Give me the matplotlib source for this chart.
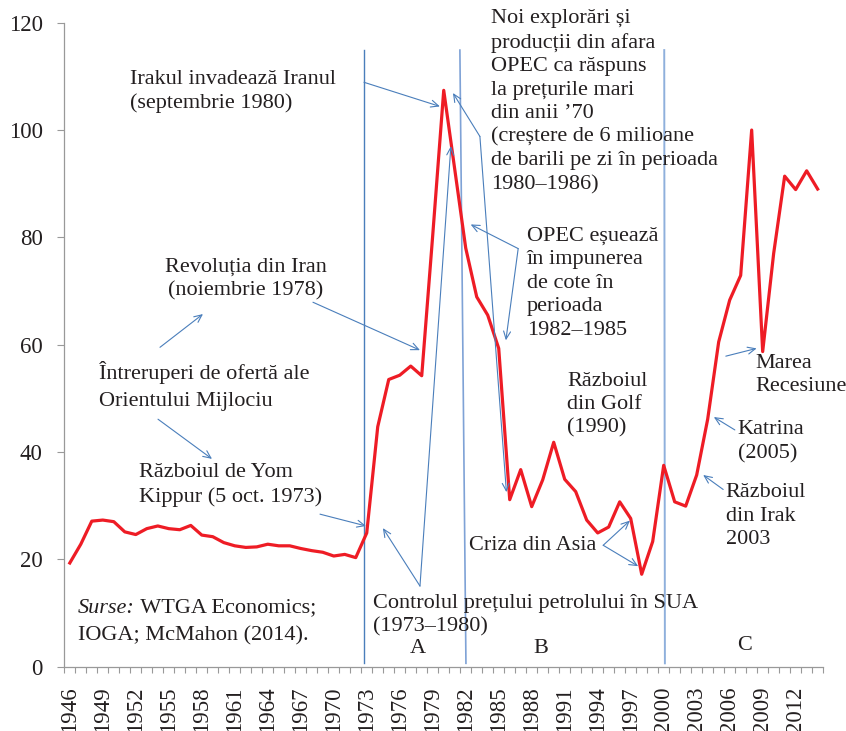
import numpy as np
import matplotlib
matplotlib.use('Agg')
import matplotlib.pyplot as plt

# real oil price (USD), 1946-2014
years = np.arange(1946, 2015)
prices = [19.3, 22.8, 27.1, 27.3, 27.0, 25.1, 24.6, 25.7, 26.2, 25.7,
          25.5, 26.3, 24.5, 24.2, 23.1, 22.5, 22.2, 22.3, 22.8, 22.5,
          22.5, 22.0, 21.6, 21.3, 20.6, 20.9, 20.3, 24.9, 44.7, 53.5,
          54.3, 56.0, 54.2, 80.4, 107.4, 92.7, 78.0, 68.9, 65.5, 59.3,
          31.1, 36.7, 29.8, 34.8, 41.8, 34.9, 32.6, 27.3, 24.9, 26.0,
          30.7, 27.6, 17.2, 23.3, 37.5, 30.7, 29.9, 35.7, 46.1, 60.5,
          68.3, 72.9, 100.0, 58.7, 77.0, 91.4, 88.9, 92.4, 89.0]
label_years = list(range(1946, 2013, 3))
y_ticks = [0, 20, 40, 60, 80, 100, 120]

plt.rcParams['font.family'] = ['Liberation Serif', 'DejaVu Serif']
txt_col = '#231f20'
blue = '#4a7ebb'
fs = 16
tick_fs = 16.5

fig = plt.figure(figsize=(8.46, 7.31), dpi=100)
ax = fig.add_axes([0.076, 0.0882, 0.897, 0.8807])

ax.plot(years, prices, color='#ee1c25', lw=2.3, zorder=3)

# period separators
ax.plot([1972.75, 1972.75], [0.6, 115.0], color=blue, lw=1.0)
ax.plot([1981.47, 1982.02], [114.9, 0.6], color='#7fa2d6', lw=1.2)
ax.plot([2000.05, 2000.11], [114.9, 0.6], color='#8fb0dc', lw=1.4)

ax.set_xlim(1945.5, 2014.5)
ax.set_ylim(0, 120)
ax.set_yticks(y_ticks)
ax.set_xticks(label_years)
ax.set_xticklabels([str(y) for y in label_years], rotation=90)
ax.set_xticks(np.arange(1945.5, 2015, 1), minor=True)
ax.tick_params(axis='x', which='major', length=0, pad=14.5, labelsize=tick_fs, labelcolor=txt_col)
ax.tick_params(axis='x', which='minor', length=4.5, color='#999999', width=0.8)
ax.tick_params(axis='y', length=5, pad=10.5, color='#999999', width=0.8,
               labelsize=tick_fs, labelcolor=txt_col)
for s in ['top', 'right']:
    ax.spines[s].set_visible(False)
for s in ['left', 'bottom']:
    ax.spines[s].set_color('#999999')
    ax.spines[s].set_linewidth(0.9)

arrow = dict(arrowstyle='->,head_length=0.55,head_width=0.25', color=blue, lw=0.8,
             shrinkA=0, shrinkB=0)

def arr(tail, head):
    ax.annotate('', xy=head, xytext=tail, arrowprops=arrow)

def note(x, y, s, ha='left', ls=1.32):
    ax.text(x, y, s, ha=ha, va='center', fontsize=fs, color=txt_col, linespacing=ls)

note(1951.47, 107.2, 'Irakul invadează Iranul\n(septembrie 1980)')
arr((1972.75, 108.9), (1979.65, 104.4))

note(1962.02, 72.2, 'Revoluția din Iran\n(noiembrie 1978)', ha='center')
arr((1968.11, 67.9), (1977.84, 58.97))

note(1948.65, 52.3, 'Întreruperi de ofertă ale\nOrientului Mijlociu', ls=1.57)
arr((1954.2, 59.5), (1958.11, 65.7))
arr((1954.02, 46.1), (1958.93, 38.7))

note(1952.29, 33.8, 'Războiul de Yom\nKippur (5 oct. 1973)')
arr((1968.75, 28.4), (1972.93, 26.2))

t1 = ax.text(1946.75, 10.9, 'Surse:', style='italic', ha='left', va='center',
             fontsize=fs, color=txt_col)
ax.annotate(' WTGA Economics;', xy=(1, 0), xycoords=t1, ha='left', va='bottom',
            fontsize=fs, color=txt_col)
note(1946.75, 5.7, 'IOGA; McMahon (2014).')

note(1973.56, 9.6, 'Controlul prețului petrolului în SUA\n(1973–1980)')
arr((1977.84, 15.0), (1974.47, 25.8))
arr((1977.84, 15.0), (1980.65, 97.0))

note(1977.65, 3.45, 'A', ha='center')
note(1988.84, 3.45, 'B', ha='center')
note(2007.38, 4.0, 'C', ha='center')

note(1984.29, 105.3, 'Noi explorări și\nproducții din afara\nOPEC ca răspuns\n'
     'la prețurile mari\ndin anii ’70\n(creștere de 6 milioane\n'
     'de barili pe zi în perioada\n1980–1986)')
arr((1983.29, 98.8), (1980.84, 106.9))
arr((1983.29, 98.8), (1985.7, 32.5))

note(1987.56, 71.4, 'OPEC eșuează\nîn impunerea\nde cote în\nperioada\n1982–1985')
arr((1986.77, 77.9), (1982.45, 82.4))
arr((1986.77, 77.9), (1985.65, 60.8))

note(1991.2, 48.8, 'Războiul\ndin Golf\n(1990)')

note(1982.29, 22.6, 'Criza din Asia')
arr((1994.5, 22.6), (1996.93, 27.2))
arr((1994.5, 22.6), (1997.68, 18.7))

note(2008.3, 54.3, 'Marea\nRecesiune')
arr((2005.65, 57.85), (2008.45, 59.3))

note(2006.74, 41.9, 'Katrina\n(2005)')
arr((2006.47, 44.1), (2004.56, 46.5))

note(2005.65, 28.0, 'Războiul\ndin Irak\n2003')
arr((2005.41, 33.0), (2003.59, 35.7))

fig.savefig('out.png', dpi=100)
